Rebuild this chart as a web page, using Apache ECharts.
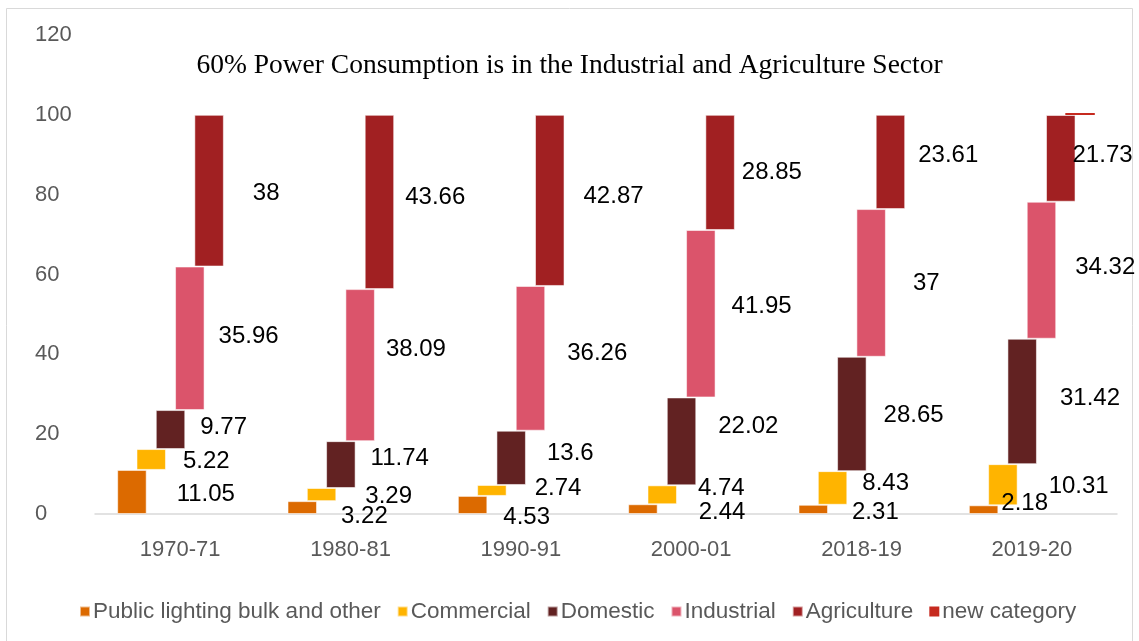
<!DOCTYPE html>
<html>
<head>
<meta charset="utf-8">
<script src="https://cdn.jsdelivr.net/npm/echarts@6/dist/echarts.min.js"></script>
<style>
html,body{margin:0;padding:0;background:#fff;}
#chart{width:1139px;height:641px;}
</style>
</head>
<body>
<div id="chart"></div>
<script>
// ---- data ----
const categories = ['1970-71', '1980-81', '1990-91', '2000-01', '2018-19', '2019-20'];
const publicLighting = [11.05, 3.22, 4.53, 2.44, 2.31, 2.18];
const commercial = [5.22, 3.29, 2.74, 4.74, 8.43, 10.31];
const domestic = [9.77, 11.74, 13.6, 22.02, 28.65, 31.42];
const industrial = [35.96, 38.09, 36.26, 41.95, 37, 34.32];
const agriculture = [38, 43.66, 42.87, 28.85, 23.61, 21.73];
const newCategory = [null, null, null, null, null, 0.04];
const seriesNames = ['Public lighting bulk and other', 'Commercial', 'Domestic', 'Industrial', 'Agriculture', 'new category'];

// ---- styling (kept apart from data) ----
const colors = ['#dc6a00', '#ffb400', '#622222', '#db546b', '#a12022', '#c62a1f'];
// label nudges [dx, dy] relative to the bar's right-middle
const labelNudges = [
  [[30, 2], [24, 9], [16, 12], [41, 3], [24, 3], [3, -6]],
  [[17, 2], [29, 2], [28, -2], [21, -6], [15, -5], [31, 2]],
  [[15, -2], [15, -6], [21, -4], [22, -15], [17, 1], [23, -3]],
  [[14, -2], [11, -16], [22, -5], [16, -7], [27, 0], [19, -3]],
  [[29, 3], [11, -5], [19, -4], [7, 0], [13, -7], [-3, -3]],
  [[0, 0], [0, 0], [0, 0], [0, 0], [0, 0], [0, 0]]
];

const values = [publicLighting, commercial, domestic, industrial, agriculture, newCategory];
const BAR_W = 29.5;
const BAR_GAP = '-34.6%';

const series = [];
values.forEach((vals, k) => {
  const base = categories.map((c, i) => {
    let s = 0;
    for (let j = 0; j < k; j++) s += (values[j][i] || 0);
    return +s.toFixed(4);
  });
  series.push({
    type: 'bar', name: '_base' + k, stack: 's' + k,
    data: base, barWidth: BAR_W, barGap: BAR_GAP,
    itemStyle: { color: 'transparent' }, silent: true,
    emphasis: { disabled: true }, label: { show: false }, tooltip: { show: false }
  });
  series.push({
    type: 'bar', name: seriesNames[k], stack: 's' + k,
    barWidth: BAR_W, barGap: BAR_GAP,
    barMinHeight: k === 5 ? 2 : 0,
    itemStyle: { color: colors[k], borderColor: 'rgba(255,255,255,0.55)', borderWidth: k === 5 ? 0 : 1 },
    emphasis: { disabled: true },
    label: {
      show: k < 5, position: 'right', distance: 0,
      fontFamily: 'Liberation Sans, Arial, sans-serif', fontSize: 24, color: '#000'
    },
    data: vals.map((v, i) => ({ value: v, label: { offset: labelNudges[k][i] } }))
  });
});

const chart = echarts.init(document.getElementById('chart'), null, { renderer: 'canvas' });
chart.setOption({
  animation: false,
  backgroundColor: '#fff',
  color: colors,
  title: {
    text: '60% Power Consumption is in the Industrial and Agriculture Sector',
    left: 'center', top: 52, padding: 0,
    textStyle: { fontFamily: 'Liberation Serif, Times New Roman, serif', fontWeight: 'normal', fontSize: 27.5, color: '#000' }
  },
  graphic: [{
    type: 'rect', shape: { x: 6.5, y: 8.5, width: 1126, height: 660 },
    style: { fill: 'none', stroke: '#d9d9d9', lineWidth: 1 }, silent: true, z: -1
  }],
  legend: {
    data: seriesNames,
    left: 79, top: 600, padding: 0,
    icon: 'rect', itemWidth: 10, itemHeight: 10, itemGap: 16,
    textStyle: { fontFamily: 'Liberation Sans, Arial, sans-serif', fontSize: 22.5, color: '#595959', padding: [0, 0, 0, -2] }
  },
  grid: { left: 95, right: 22, top: 35, bottom: 127, containLabel: false },
  xAxis: {
    type: 'category', data: categories,
    axisLine: { lineStyle: { color: '#d9d9d9', width: 1.5 } },
    axisTick: { show: false },
    axisLabel: { fontFamily: 'Liberation Sans, Arial, sans-serif', fontSize: 22, color: '#595959', margin: 25 }
  },
  yAxis: {
    type: 'value', min: 0, max: 120, interval: 20,
    axisLine: { show: false }, axisTick: { show: false },
    splitLine: { show: false },
    axisLabel: { fontFamily: 'Liberation Sans, Arial, sans-serif', fontSize: 22, color: '#595959', align: 'left', margin: 60 }
  },
  series: series
});
</script>
</body>
</html>
